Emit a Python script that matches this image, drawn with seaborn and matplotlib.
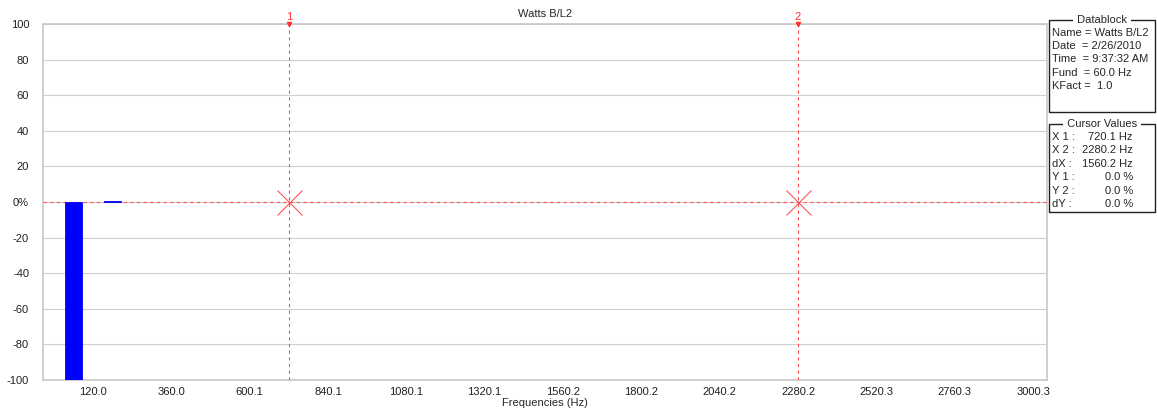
import numpy as np
import pandas as pd
import seaborn as sns
import matplotlib.pyplot as plt
import matplotlib.patches as patches

# harmonic data (Hz, % of fundamental); only non-zero harmonics
freqs = [60.006, 180.018]
values = [-100.0, 0.8]
tick_freqs = [120.0, 360.0, 600.1, 840.1, 1080.1, 1320.1, 1560.2, 1800.2,
              2040.2, 2280.2, 2520.3, 2760.3, 3000.3]
y_ticks = [100, 80, 60, 40, 20, 0, -20, -40, -60, -80, -100]
y_labels = ["100", "80", "60", "40", "20", "0%", "-20", "-40", "-60", "-80", "-100"]
cursors = [720.1, 2280.2]
cursor_y = [0.0, 0.0]

datablock = ["Name = Watts B/L2", "Date  = 2/26/2010", "Time  = 9:37:32 AM",
             "Fund  = 60.0 Hz", "KFact =  1.0"]
cursor_names = ["X 1 :", "X 2 :", "dX :", "Y 1 :", "Y 2 :", "dY :"]
cursor_vals = ["720.1 Hz", "2280.2 Hz", "1560.2 Hz", "0.0 %", "0.0 %", "0.0 %"]

sns.set_style("white")
plt.rcParams['font.family'] = ['Liberation Sans', 'DejaVu Sans']
fs = 8

df = pd.DataFrame({"freq": freqs, "val": values})

fig = plt.figure(figsize=(11.57, 4.19), dpi=100)
ax = fig.add_axes([43/1157, 1-380/419, (1047-43)/1157, (380-24)/419])

# width is relative to the 120 Hz spacing between bars (~52 Hz wide)
sns.barplot(data=df, x="freq", y="val", native_scale=True, width=0.435,
            color="#0000ff", saturation=1, linewidth=0.6, edgecolor="#0000ff",
            ax=ax, zorder=5)

ax.set_xlim(-33, 3043)
ax.set_ylim(-100, 100)
ax.set_yticks(y_ticks)
ax.set_yticklabels(y_labels)
ax.set_xticks(tick_freqs)
ax.set_xticklabels(["%.1f" % t for t in tick_freqs])
ax.tick_params(length=0, labelsize=fs, colors="#202020")
ax.tick_params(axis="x", pad=5)
ax.tick_params(axis="y", pad=10)
ax.yaxis.grid(True, color="#d0d0d0", linewidth=0.8)
ax.set_axisbelow(True)
for s in ax.spines.values():
    s.set_color("#c8c8c8")
    s.set_linewidth(1.2)

ax.set_xlabel("Frequencies (Hz)", fontsize=fs, labelpad=1)
ax.set_ylabel("")
ax.set_title("Watts B/L2", fontsize=fs, pad=5)

# zero line and cursors
ax.axhline(0, color="#ff5050", linestyle=(0, (3, 3)), linewidth=0.8, zorder=3)
for i, (cx, cy) in enumerate(zip(cursors, cursor_y)):
    ax.axvline(cx, color="#ff5050", linestyle=(0, (3, 3)), linewidth=0.8, zorder=3)
    ax.plot([cx], [cy], marker="x", markersize=18, markeredgewidth=0.7,
            color="#ff4040", zorder=4)
    ax.text(cx, 1.005, str(i + 1), transform=ax.get_xaxis_transform(),
            ha="center", va="bottom", color="#ff3030", fontsize=fs)
    ax.plot([cx], [1.0], marker="v", markersize=3, color="#ff3030",
            transform=ax.get_xaxis_transform(), clip_on=False, zorder=5)

# side boxes
def px(x, y):
    return x / 1157, 1 - y / 419

def side_box(top, bottom, title):
    x0, y0 = px(1049, bottom)
    x1, y1 = px(1155, top)
    fig.patches.append(patches.Rectangle((x0, y0), x1 - x0, y1 - y0,
                                         transform=fig.transFigure, fill=False,
                                         edgecolor="#202020", linewidth=1.0))
    tx, ty = px(1102, top)
    fig.text(tx, ty, " " + title + " ", ha="center", va="center", fontsize=fs,
             bbox=dict(facecolor="white", edgecolor="none", pad=0.5))

side_box(20, 112, "Datablock")
for i, line in enumerate(datablock):
    fig.text(*px(1052, 33 + i * 13.2), line, ha="left", va="center", fontsize=fs)

side_box(124, 212, "Cursor Values")
for i, (n, v) in enumerate(zip(cursor_names, cursor_vals)):
    fig.text(*px(1052, 137 + i * 13.4), n, ha="left", va="center", fontsize=fs)
    fig.text(*px(1133, 137 + i * 13.4), v, ha="right", va="center", fontsize=fs)

fig.savefig("out.png", dpi=100)
